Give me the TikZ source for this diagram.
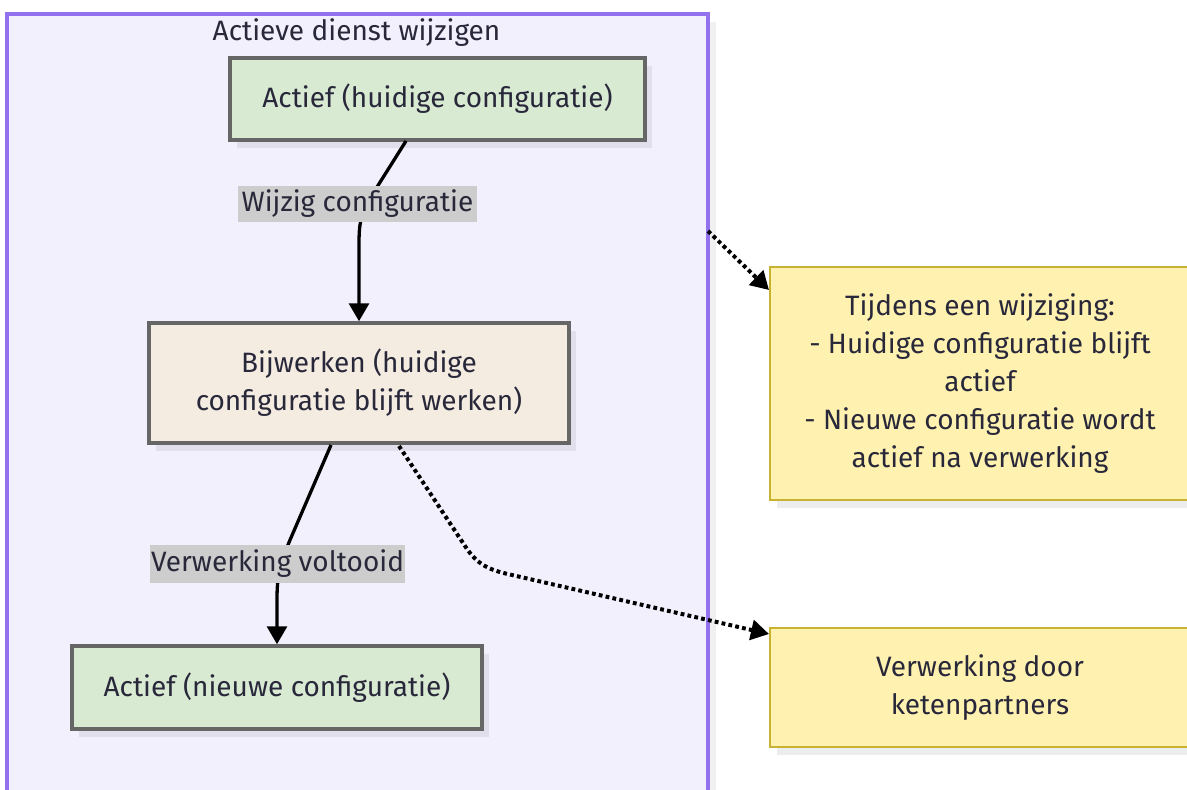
\documentclass[tikz,border=0pt]{standalone}
\usepackage{fontspec}
\setmainfont{Fira Sans}
\usetikzlibrary{arrows.meta,shadows}
\definecolor{clfill}{HTML}{F3F0FE}
\definecolor{clborder}{HTML}{9370EE}
\definecolor{greenfill}{HTML}{D9EAD3}
\definecolor{beigefill}{HTML}{F4ECE1}
\definecolor{nodeborder}{HTML}{666666}
\definecolor{notefill}{HTML}{FFF2B0}
\definecolor{noteborder}{HTML}{C8B232}
\definecolor{lblfill}{HTML}{CDCDCD}
\definecolor{txt}{HTML}{28283A}
\tikzset{
  shad/.style={drop shadow={shadow xshift=7pt,shadow yshift=-8pt,fill=black,opacity=0.07}},
  box/.style={draw=nodeborder,line width=3.5pt,inner sep=0pt,align=center,text=txt,
    font=\fontsize{28}{38}\selectfont,shad},
  notebox/.style={draw=noteborder,fill=notefill,line width=2.6pt,inner sep=0pt,align=center,text=txt,
    font=\fontsize{28}{38}\selectfont,shad},
  lbl/.style={fill=lblfill,inner sep=0pt,text=txt,font=\fontsize{28}{30}\selectfont},
  edge/.style={line width=3.3pt,draw=black,-{Triangle[length=18pt,width=20pt]}},
  dotedge/.style={line width=4pt,draw=black,dash pattern=on 3.8pt off 3.2pt,-{Triangle[length=18pt,width=20pt]}}
}
\begin{document}
\begin{tikzpicture}[x=1pt,y=-1pt]
\useasboundingbox (0,0) rectangle (1187,790);
\clip (0,0) rectangle (1187,790);
\fill[white] (0,0) rectangle (1187,790);
% cluster
\fill[black,opacity=0.06] (14,22) rectangle (716,820);
\draw[clborder,line width=3.4pt,fill=clfill] (7,14) rectangle (708,810);
\node[text=txt,font=\fontsize{28}{30}\selectfont] (title) at (356.5,33) {Actieve dienst wijzigen};
% nodes
\node[box,fill=greenfill,minimum width=415pt,minimum height=82pt] (A) at (437.5,99) {Actief (huidige configuratie)};
\node[box,fill=beigefill,minimum width=420pt,minimum height=120pt] (B) at (359,383) {Bijwerken (huidige\\configuratie blijft werken)};
\node[box,fill=greenfill,minimum width=410pt,minimum height=83pt] (C) at (277,687.5) {Actief (nieuwe configuratie)};
\node[notebox,minimum width=420pt,minimum height=233pt] (N1) at (980,383.5) {Tijdens een wijziging:\\- Huidige configuratie blijft\\actief\\- Nieuwe configuratie wordt\\actief na verwerking};
\node[notebox,minimum width=420pt,minimum height=119pt] (N2) at (980,687.5) {Verwerking door\\ketenpartners};
% coordinates
\coordinate (a1) at (406,141);
\coordinate (b1) at (331,445);
\coordinate (b2) at (399,446);
\coordinate (c1) at (708,231);
\coordinate (n1) at (769,290);
\coordinate (n2) at (769,634);
\coordinate (xB) at (359,0);
\coordinate (xC) at (277,0);
% edges
\draw[edge] (a1) -- (372,195) .. controls (360,214) and (359,225) .. (359,245) -- (xB |- B.north);
\draw[edge] (b1) -- (290,540) .. controls (279,566) and (277,578) .. (277,600) -- (xC |- C.north);
\draw[dotedge] (c1) -- (n1);
\draw[dotedge] (b2) -- (465,546) .. controls (478,566) and (490,570) .. (512,575) -- (n2);
% labels
\node[lbl,minimum width=239pt,minimum height=36pt] (L1) at (357.5,204) {Wijzig configuratie};
\node[lbl,minimum width=255pt,minimum height=38pt] (L2) at (277.5,564) {Verwerking voltooid};
\end{tikzpicture}
\end{document}
